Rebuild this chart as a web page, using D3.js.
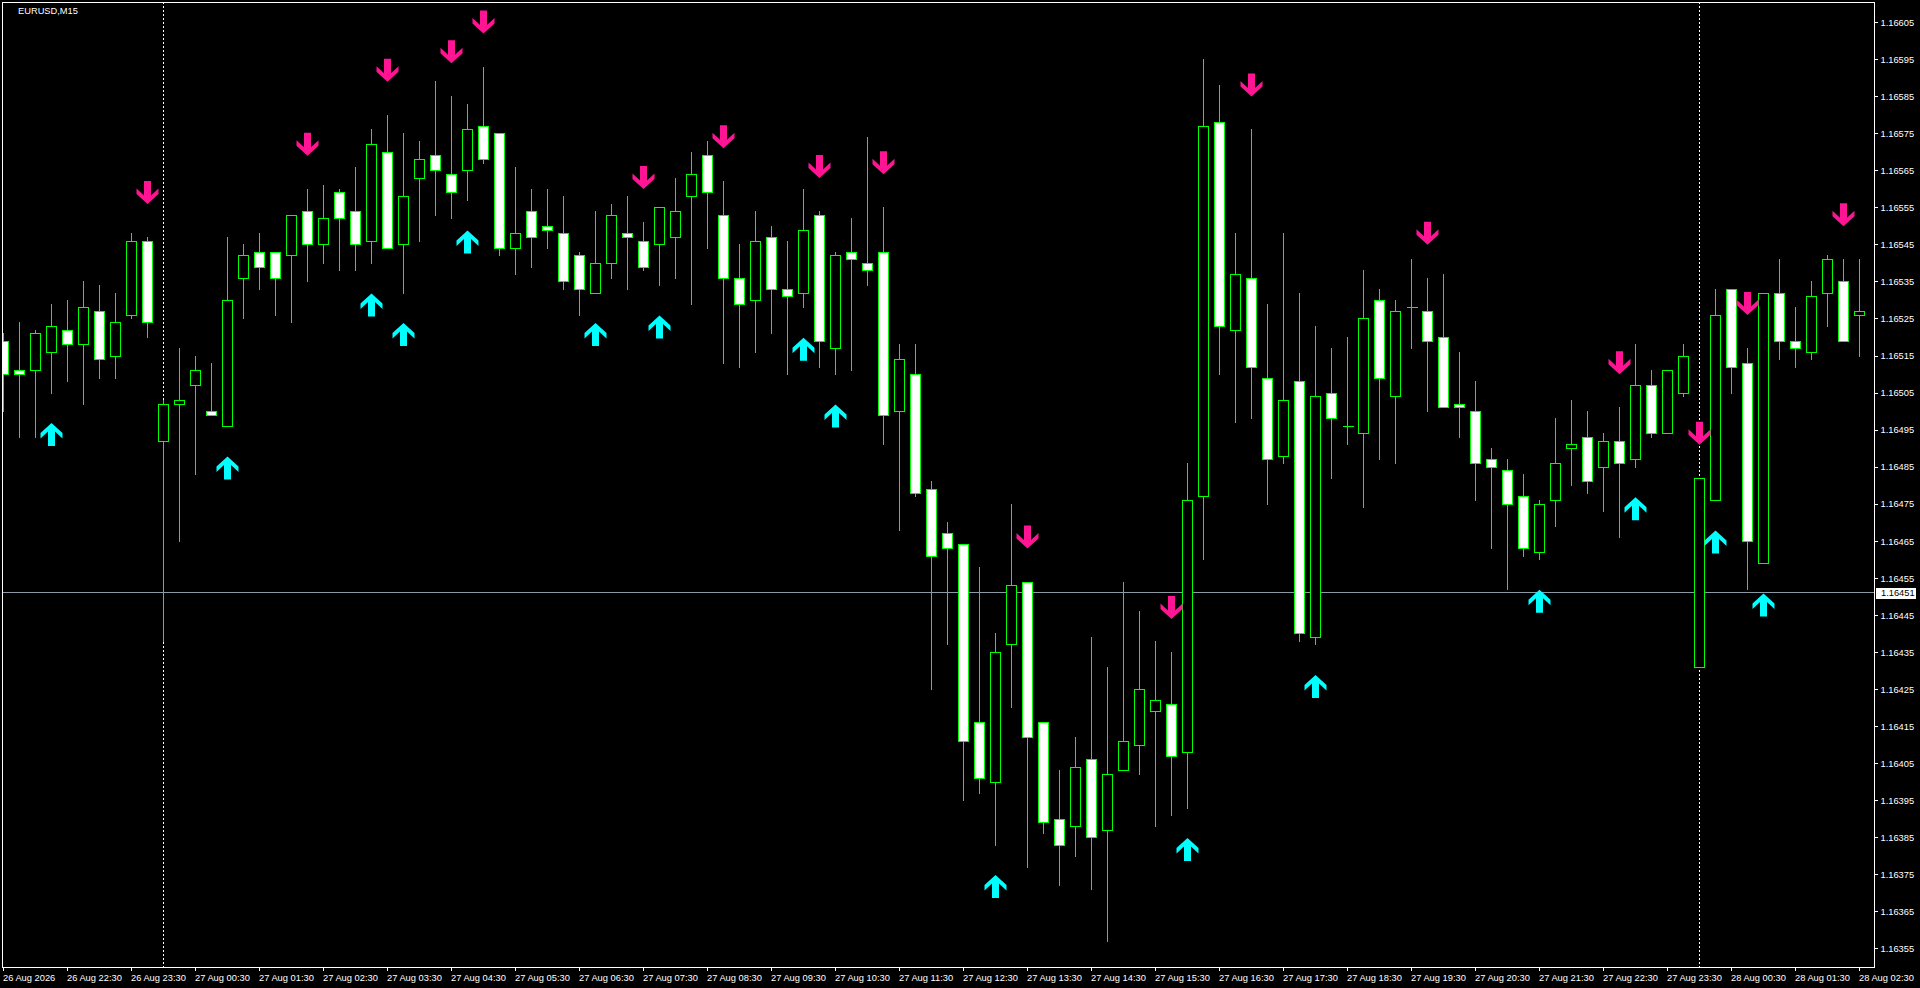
<!DOCTYPE html>
<html><head><meta charset="utf-8">
<script src="https://cdn.jsdelivr.net/npm/d3@7"></script>
<style>html,body{margin:0;padding:0;background:#000;overflow:hidden}svg{display:block}</style>
</head><body>
<svg id="c" width="1920" height="988"></svg>
<script>
const symbolTitle = "EURUSD,M15";

const opens = [
1.16519,1.16511,1.16511,1.16516,1.16522,1.16518,1.16527,1.16515,1.16526,1.16546,
1.16492,1.16502,1.16507,1.16500,1.16496,1.16536,1.16543,1.16543,1.16542,1.16554,
1.16545,1.16559,1.16554,1.16546,1.16570,1.16545,1.16563,1.16569,1.16564,1.16565,
1.16577,1.16575,1.16544,1.16554,1.16550,1.16548,1.16542,1.16532,1.16540,1.16548,
1.16546,1.16545,1.16547,1.16558,1.16569,1.16553,1.16536,1.16530,1.16547,1.16533,
1.16532,1.16553,1.16517,1.16543,1.16540,1.16543,1.16500,1.16510,1.16479,1.16467,
1.16464,1.16416,1.16400,1.16437,1.16454,1.16416,1.16390,1.16388,1.16406,1.16387,
1.16403,1.16410,1.16419,1.16421,1.16408,1.16477,1.16578,1.16522,1.16536,1.16509,
1.16488,1.16508,1.16439,1.16505,1.16496,1.16494,1.16530,1.16504,1.16528,1.16527,
1.16520,1.16502,1.16500,1.16487,1.16484,1.16477,1.16462,1.16476,1.16490,1.16493,
1.16485,1.16492,1.16487,1.16507,1.16494,1.16505,1.16431,1.16476,1.16533,1.16513,
1.16459,1.16532,1.16519,1.16516,1.16532,1.16535,1.16526];

const highs = [
1.16521,1.16524,1.16522,1.16529,1.16530,1.16535,1.16534,1.16532,1.16548,1.16547,
1.16503,1.16517,1.16515,1.16513,1.16547,1.16545,1.16548,1.16543,1.16553,1.16560,
1.16561,1.16560,1.16566,1.16576,1.16580,1.16575,1.16573,1.16589,1.16585,1.16583,
1.16593,1.16575,1.16566,1.16560,1.16560,1.16558,1.16543,1.16554,1.16556,1.16558,
1.16551,1.16555,1.16563,1.16570,1.16573,1.16562,1.16545,1.16554,1.16550,1.16546,
1.16560,1.16554,1.16543,1.16552,1.16574,1.16555,1.16518,1.16518,1.16481,1.16470,
1.16464,1.16458,1.16440,1.16475,1.16454,1.16416,1.16403,1.16412,1.16439,1.16431,
1.16454,1.16446,1.16438,1.16435,1.16486,1.16595,1.16588,1.16548,1.16576,1.16529,
1.16548,1.16532,1.16523,1.16517,1.16520,1.16538,1.16533,1.16530,1.16541,1.16536,
1.16537,1.16516,1.16508,1.16490,1.16487,1.16483,1.16476,1.16498,1.16503,1.16500,
1.16494,1.16501,1.16518,1.16511,1.16511,1.16518,1.16482,1.16533,1.16533,1.16517,
1.16532,1.16541,1.16528,1.16535,1.16542,1.16541,1.16541];

const lows = [
1.16500,1.16493,1.16493,1.16505,1.16508,1.16502,1.16509,1.16509,1.16525,1.16520,
1.16438,1.16465,1.16483,1.16499,1.16496,1.16525,1.16533,1.16526,1.16524,1.16535,
1.16540,1.16538,1.16538,1.16540,1.16544,1.16532,1.16546,1.16553,1.16552,1.16557,
1.16567,1.16542,1.16537,1.16539,1.16544,1.16533,1.16526,1.16532,1.16536,1.16533,
1.16538,1.16534,1.16536,1.16529,1.16544,1.16513,1.16512,1.16516,1.16521,1.16510,
1.16528,1.16512,1.16510,1.16511,1.16534,1.16491,1.16468,1.16477,1.16425,1.16437,
1.16395,1.16397,1.16383,1.16420,1.16377,1.16386,1.16372,1.16380,1.16371,1.16357,
1.16403,1.16402,1.16388,1.16391,1.16393,1.16460,1.16510,1.16497,1.16498,1.16475,
1.16486,1.16438,1.16437,1.16482,1.16491,1.16474,1.16487,1.16486,1.16517,1.16500,
1.16501,1.16493,1.16476,1.16463,1.16452,1.16461,1.16460,1.16469,1.16480,1.16478,
1.16473,1.16466,1.16485,1.16493,1.16494,1.16504,1.16431,1.16476,1.16505,1.16452,
1.16459,1.16514,1.16512,1.16514,1.16523,1.16519,1.16515];

const closes = [
1.16510,1.16510,1.16521,1.16523,1.16518,1.16528,1.16514,1.16524,1.16546,1.16524,
1.16502,1.16503,1.16511,1.16499,1.16530,1.16542,1.16539,1.16536,1.16553,1.16545,
1.16552,1.16552,1.16545,1.16572,1.16544,1.16558,1.16568,1.16565,1.16559,1.16576,
1.16568,1.16544,1.16548,1.16547,1.16549,1.16535,1.16533,1.16540,1.16553,1.16547,
1.16539,1.16555,1.16554,1.16564,1.16559,1.16536,1.16529,1.16546,1.16533,1.16531,
1.16549,1.16519,1.16542,1.16541,1.16538,1.16499,1.16514,1.16478,1.16461,1.16463,
1.16411,1.16401,1.16435,1.16453,1.16412,1.16389,1.16383,1.16404,1.16385,1.16402,
1.16411,1.16425,1.16422,1.16407,1.16476,1.16577,1.16523,1.16537,1.16512,1.16487,
1.16503,1.16440,1.16504,1.16498,1.16496,1.16525,1.16509,1.16527,1.16528,1.16519,
1.16501,1.16501,1.16486,1.16485,1.16475,1.16463,1.16475,1.16486,1.16491,1.16481,
1.16492,1.16486,1.16507,1.16494,1.16511,1.16515,1.16482,1.16526,1.16512,1.16465,
1.16532,1.16519,1.16517,1.16531,1.16541,1.16519,1.16527];

const timeTickIndex = [0,4,8,12,16,20,24,28,32,36,40,44,48,52,56,60,64,68,72,76,80,84,88,92,96,100,104,108,112,116];
const timeTickLabels = ["26 Aug 2026","26 Aug 22:30","26 Aug 23:30","27 Aug 00:30","27 Aug 01:30","27 Aug 02:30",
"27 Aug 03:30","27 Aug 04:30","27 Aug 05:30","27 Aug 06:30","27 Aug 07:30","27 Aug 08:30","27 Aug 09:30",
"27 Aug 10:30","27 Aug 11:30","27 Aug 12:30","27 Aug 13:30","27 Aug 14:30","27 Aug 15:30","27 Aug 16:30",
"27 Aug 17:30","27 Aug 18:30","27 Aug 19:30","27 Aug 20:30","27 Aug 21:30","27 Aug 22:30","27 Aug 23:30",
"28 Aug 00:30","28 Aug 01:30","28 Aug 02:30"];

const priceTicks = [1.16605,1.16595,1.16585,1.16575,1.16565,1.16555,1.16545,1.16535,1.16525,1.16515,1.16505,
1.16495,1.16485,1.16475,1.16465,1.16455,1.16445,1.16435,1.16425,1.16415,1.16405,1.16395,1.16385,1.16375,1.16365,1.16355];

const upSignals = [3,14,23,25,29,37,41,50,52,62,74,82,96,102,107,110];
const downSignals = [9,19,24,28,30,40,45,51,55,64,73,78,89,101,106,109,115];
const daySeparators = [10,106];
const bidPrice = 1.16451;

// ---------- drawing ----------
const svg = d3.select("#c");
const FONT = "'Liberation Sans', Arial, sans-serif";
const FS = "9.3px";
const L = 2, T = 2, R = 1874, B = 967;

svg.append("rect").attr("width",1920).attr("height",988).attr("fill","#000");

const x = d3.scaleLinear().domain([0,116]).range([3,1859]);
const y = d3.scaleLinear().domain([1.16355,1.16605]).range([948.3,22.05]);

svg.append("defs").append("clipPath").attr("id","plot")
  .append("rect").attr("x",L+1).attr("y",T+1).attr("width",R-L-1).attr("height",B-T-1);

const plot = svg.append("g").attr("clip-path","url(#plot)");

// day separators
plot.selectAll("line.sep").data(daySeparators).join("line")
  .attr("x1",d=>x(d)+0.5).attr("x2",d=>x(d)+0.5).attr("y1",T).attr("y2",B)
  .attr("stroke","#fff").attr("stroke-width",1).attr("stroke-dasharray","2,2")
  .attr("shape-rendering","crispEdges");

// bid line
const by = Math.floor(y(bidPrice))+0.5;
plot.append("line").attr("x1",L).attr("x2",R).attr("y1",by).attr("y2",by)
  .attr("stroke","#8c9aa8").attr("stroke-width",1).attr("shape-rendering","crispEdges");

const idx = d3.range(opens.length);
const G = "#00ff00";

// wicks
plot.selectAll("line.wick").data(idx).join("line")
  .attr("x1",i=>x(i)+0.5).attr("x2",i=>x(i)+0.5)
  .attr("y1",i=>Math.round(y(highs[i]))).attr("y2",i=>Math.round(y(lows[i]))+1)
  .attr("stroke",G).attr("stroke-width",1).attr("shape-rendering","crispEdges");

// bodies
idx.forEach(i=>{
  const o = opens[i], c = closes[i];
  const y0 = Math.round(y(Math.max(o,c))), y1 = Math.round(y(Math.min(o,c)));
  const cx = x(i)+0.5;
  if (y1 - y0 < 1) {
    plot.append("line").attr("x1",cx-5).attr("x2",cx+6).attr("y1",y0+0.5).attr("y2",y0+0.5)
      .attr("stroke",G).attr("stroke-width",1).attr("shape-rendering","crispEdges");
  } else {
    plot.append("rect").attr("x",cx-5).attr("y",y0+0.5).attr("width",10).attr("height",y1-y0)
      .attr("fill", c < o ? "#fff" : "#000").attr("stroke",G).attr("stroke-width",1)
      .attr("shape-rendering","crispEdges");
  }
});

// arrows
const upShape = [[0,0],[11,10],[11,15.5],[3.5,8.5],[3.5,23],[-3.5,23],[-3.5,8.5],[-11,15.5],[-11,10]];
function arrowPath(cx, ty, dir){
  return "M" + upShape.map(p=>[cx+p[0], ty + dir*p[1]].join(",")).join("L") + "Z";
}
plot.selectAll("path.up").data(upSignals).join("path")
  .attr("d",i=>arrowPath(x(i)+0.5, y(lows[i])+30.5, 1))
  .attr("fill","#00ffff");
plot.selectAll("path.dn").data(downSignals).join("path")
  .attr("d",i=>arrowPath(x(i)+0.5, y(highs[i])-33, -1))
  .attr("fill","#ff1493");

// frame
svg.append("rect").attr("x",L+0.5).attr("y",T+0.5).attr("width",R-L).attr("height",B-T)
  .attr("fill","none").attr("stroke","#fff").attr("stroke-width",1).attr("shape-rendering","crispEdges");

// price axis
const ya = svg.append("g").attr("transform",`translate(${R+0.5},0)`)
  .call(d3.axisRight(y).tickValues(priceTicks).tickSize(3).tickPadding(4).tickFormat(d=>d.toFixed(5)));
ya.select(".domain").remove();
ya.selectAll(".tick line").attr("stroke","#fff").attr("shape-rendering","crispEdges");
ya.selectAll(".tick text").attr("fill","#fff").attr("font-family",FONT).attr("font-size",FS)
  .attr("x",6).attr("dy","0.35em");

// time axis
const xa = svg.append("g").attr("transform",`translate(0,${B+0.5})`)
  .call(d3.axisBottom(x).tickValues(timeTickIndex).tickSize(3)
    .tickFormat((d,i)=>timeTickLabels[i]));
xa.select(".domain").remove();
xa.selectAll(".tick line").attr("stroke","#fff").attr("shape-rendering","crispEdges");
xa.selectAll(".tick text").attr("fill","#fff").attr("font-family",FONT).attr("font-size",FS)
  .attr("text-anchor","start").attr("x",-0.5).attr("y",13).attr("dy",0);

// bid label
svg.append("rect").attr("x",R+2).attr("y",Math.round(y(bidPrice))-5).attr("width",40).attr("height",11).attr("fill","#fff");
svg.append("text").attr("x",R+7).attr("y",y(bidPrice)).attr("dy","0.35em")
  .attr("fill","#000").attr("font-family",FONT).attr("font-size",FS).text(bidPrice.toFixed(5));

// title
svg.append("text").attr("x",18).attr("y",13.5).attr("fill","#fff")
  .attr("font-family",FONT).attr("font-size",FS).text(symbolTitle);
</script>
</body></html>
